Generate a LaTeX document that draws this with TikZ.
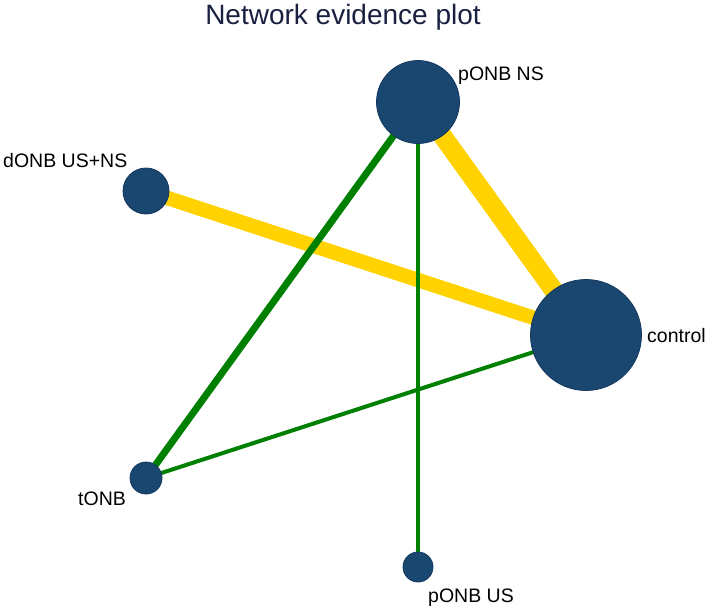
\documentclass[tikz,border=0pt]{standalone}
\usepackage{fontspec}
\setmainfont{Liberation Sans}
\usetikzlibrary{backgrounds}
\definecolor{navy}{RGB}{26,71,111}
\definecolor{navyline}{RGB}{20,55,95}
\definecolor{gold}{RGB}{255,210,0}
\definecolor{dgreen}{RGB}{0,128,0}
\definecolor{titlecol}{RGB}{26,32,64}
\begin{document}
\begin{tikzpicture}[x=1pt,y=-1pt,
  trt/.style={circle,fill=navy,draw=navyline,line width=0.8pt,inner sep=0pt},
  lab/.style={anchor=base west,inner sep=0pt,font=\fontsize{19.5}{22}\selectfont},
  yedge/.style={draw=gold},
  gedge/.style={draw=dgreen}]
\useasboundingbox (0,0) rectangle (709,608);
\node[anchor=base,inner sep=0pt,text=titlecol,font=\fontsize{28}{32}\selectfont] (title) at (343,24) {Network evidence plot};
\node[trt,minimum size=83pt] (pns) at (418,102) {};
\node[trt,minimum size=46pt] (don) at (146,191) {};
\node[trt,minimum size=111pt] (ctl) at (586,335) {};
\node[trt,minimum size=32pt] (ton) at (146,478) {};
\node[trt,minimum size=30pt] (pus) at (418,567) {};
\begin{scope}[on background layer]
  \draw[yedge,line width=19pt] (pns.center) -- (ctl.center);
  \draw[yedge,line width=14.5pt] (don.center) -- (ctl.center);
  \draw[gedge,line width=7pt] (pns.center) -- (ton.center);
  \draw[gedge,line width=4pt] (pns.center) -- (pus.center);
  \draw[gedge,line width=4pt] (ctl.center) -- (ton.center);
\end{scope}
\node[lab] (lpns) at (458,80) {pONB NS};
\node[lab] (ldon) at (3,167) {dONB US+NS};
\node[lab] (lctl) at (647,342) {control};
\node[lab] (lton) at (78,505) {tONB};
\node[lab] (lpus) at (428,602) {pONB US};
\end{tikzpicture}
\end{document}
